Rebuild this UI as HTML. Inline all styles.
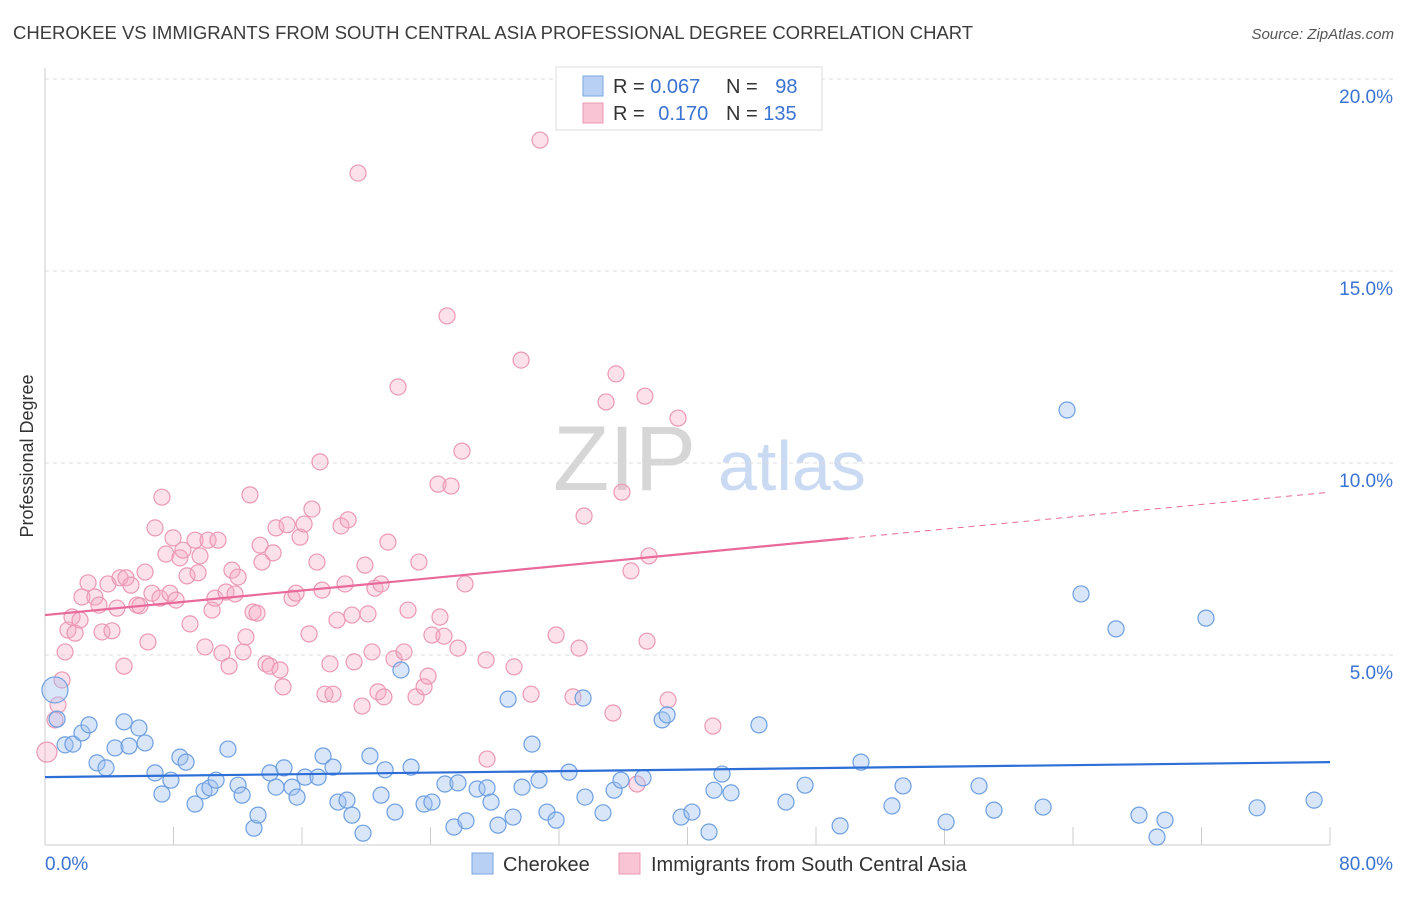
<!DOCTYPE html>
<html><head><meta charset="utf-8"><style>
body{margin:0;background:#fff;font-family:"Liberation Sans",sans-serif;}
svg text{font-family:"Liberation Sans",sans-serif;}
</style></head><body>
<svg id="chart" width="1406" height="892" viewBox="0 0 1406 892">
<text x="13" y="39" font-size="18.5" fill="#3c3c3c">CHEROKEE VS IMMIGRANTS FROM SOUTH CENTRAL ASIA PROFESSIONAL DEGREE CORRELATION CHART</text>
<text x="1394" y="39" font-size="15" fill="#555" text-anchor="end" font-style="italic">Source: ZipAtlas.com</text>
<text x="33" y="456" font-size="18" fill="#333" text-anchor="middle" transform="rotate(-90 33 456)">Professional Degree</text>
<g>
<text x="553" y="490" font-size="92" fill="#d6d6d6" font-family="Liberation Serif">ZIP</text>
<text x="718" y="490" font-size="70" fill="#c9daf2">atlas</text>
</g>
<g id="grid"></g>
<g id="marks"></g>
<g>
<rect x="556" y="67" width="266" height="63" fill="#fff" stroke="#ddd"/>
<rect x="583" y="76" width="20" height="20" fill="#b8d0f3" stroke="#7aa7e2"/>
<rect x="583" y="103" width="20" height="20" fill="#f9c4d4" stroke="#ea9ab5"/>
<text x="613" y="93" font-size="20" fill="#333">R = <tspan fill="#3b73d1">0.067</tspan></text>
<text x="726" y="93" font-size="20" fill="#333">N = <tspan fill="#3b73d1" dx="12">98</tspan></text>
<text x="613" y="120" font-size="20" fill="#333">R = <tspan fill="#3b73d1" dx="8">0.170</tspan></text>
<text x="726" y="120" font-size="20" fill="#333">N = <tspan fill="#3b73d1">135</tspan></text>
</g>
<g>
<rect x="472" y="853" width="21" height="21" fill="#b8d0f3" stroke="#7aa7e2"/>
<text x="503" y="871" font-size="20" fill="#333">Cherokee</text>
<rect x="619" y="853" width="21" height="21" fill="#f9c4d4" stroke="#ea9ab5"/>
<text x="651" y="871" font-size="20" fill="#333">Immigrants from South Central Asia</text>
</g>
</svg>
<script>
const yTicks=[5,10,15,20];
const yTickLabels=["5.0%","10.0%","15.0%","20.0%"];
const xTicks=[0,8,16,24,32,40,48,56,64,72,80];
const blueX=[0.62,0.75,1.25,1.74,2.30,2.74,3.24,3.80,4.36,4.92,5.23,5.85,6.23,6.85,7.28,7.84,8.40,8.78,9.34,9.90,10.27,10.65,11.39,12.02,12.27,13.01,13.26,14.01,14.38,14.88,15.38,15.69,16.19,17.00,17.31,17.93,18.24,18.80,19.11,19.80,20.23,20.92,21.17,21.79,22.16,22.79,23.60,24.09,24.90,25.46,25.71,26.21,26.90,27.52,27.77,28.20,28.83,29.14,29.70,30.32,30.76,31.25,31.82,32.62,33.50,33.62,34.74,35.43,35.86,37.23,38.42,38.73,39.60,40.28,41.34,41.65,42.15,42.71,44.45,46.13,47.32,49.50,50.80,52.73,53.42,56.10,58.15,59.08,62.14,63.63,64.50,66.68,68.11,69.23,69.73,72.28,75.46,79.01];
const blueY=[4.09,3.33,2.66,2.68,2.97,3.18,2.19,2.06,2.58,3.26,2.63,3.10,2.71,1.93,1.38,1.74,2.34,2.21,1.12,1.46,1.54,1.74,2.55,1.61,1.35,0.49,0.83,1.93,1.56,2.06,1.56,1.30,1.82,1.82,2.37,2.08,1.17,1.22,0.83,0.36,2.37,1.35,2.01,0.91,4.61,2.08,1.12,1.17,1.64,0.52,1.67,0.68,1.51,1.54,1.17,0.57,3.85,0.78,1.56,2.68,1.74,0.91,0.70,1.95,3.88,1.30,0.89,1.48,1.74,1.80,3.31,3.44,0.78,0.91,0.39,1.48,1.90,1.41,3.18,1.17,1.61,0.55,2.21,1.07,1.59,0.65,1.59,0.96,1.04,11.38,6.59,5.68,0.83,0.26,0.70,5.96,1.02,1.22];
const pinkX=[0.12,0.62,0.81,1.06,1.25,1.43,1.68,1.87,2.18,2.30,2.68,3.11,3.36,3.55,3.92,4.17,4.48,4.67,4.92,5.04,5.35,5.73,5.91,6.23,6.41,6.66,6.85,7.16,7.28,7.53,7.78,7.97,8.16,8.40,8.59,8.84,9.03,9.34,9.53,9.65,9.96,10.15,10.40,10.58,10.77,11.02,11.27,11.46,11.64,11.83,12.02,12.33,12.51,12.76,12.95,13.20,13.39,13.51,13.76,14.01,14.20,14.38,14.63,14.82,15.07,15.38,15.63,15.88,16.13,16.44,16.62,16.93,17.12,17.25,17.43,17.74,17.93,18.18,18.43,18.68,18.87,19.11,19.24,19.49,19.74,19.92,20.11,20.36,20.54,20.73,20.92,21.10,21.35,21.73,21.98,22.35,22.60,23.10,23.28,23.60,23.85,24.09,24.47,24.59,24.84,25.03,25.28,25.71,25.96,26.15,27.46,27.52,29.20,29.64,30.26,30.82,31.82,32.87,33.25,33.56,34.93,35.36,35.55,35.92,36.48,36.86,37.35,37.48,37.60,38.79,39.41,41.58];
const pinkY=[2.47,3.31,3.70,4.35,5.08,5.65,5.99,5.57,5.91,6.51,6.88,6.51,6.30,5.60,6.85,5.63,6.22,7.01,4.71,7.01,6.82,6.30,6.28,7.16,5.34,6.61,8.31,6.48,9.11,7.63,6.61,8.05,6.43,7.53,7.73,7.06,5.81,7.99,7.14,7.58,5.21,7.99,6.17,6.48,7.99,5.05,6.64,4.71,7.21,6.59,7.03,5.08,5.47,9.17,6.12,6.09,7.86,7.42,4.77,4.71,7.66,8.31,4.61,4.17,8.39,6.48,6.61,8.07,8.41,5.55,8.80,7.42,10.03,6.69,3.98,4.77,3.98,5.91,8.36,6.85,8.52,6.04,4.82,17.55,3.67,7.34,6.07,5.08,6.74,4.04,6.85,3.91,7.94,4.90,11.98,5.08,6.17,3.91,7.42,4.17,4.45,5.52,9.45,5.99,5.49,13.83,9.40,5.18,10.31,6.85,4.87,2.29,4.69,12.68,3.98,18.41,5.52,3.91,5.18,8.62,11.59,3.49,12.32,9.24,7.19,1.64,11.74,5.36,7.58,3.83,11.17,3.15];
const blueTrend=[1.82,2.21];
const pinkTrend=[6.04,9.24];
const pinkSolidEnd=50;
const NS="http://www.w3.org/2000/svg";
const X0=45,X1=1330,Y0=847,PXPER=38.4;
function sx(v){return X0+(v/80)*(X1-X0);}
function sy(v){return Y0-v*PXPER;}
function mk(tag,attrs,parent){const e=document.createElementNS(NS,tag);for(const k in attrs)e.setAttribute(k,attrs[k]);parent.appendChild(e);return e;}
const grid=document.getElementById('grid'),marks=document.getElementById('marks');
yTicks.forEach((t,i)=>{
 const l=mk('line',{x1:X0,x2:1393,y1:sy(t),y2:sy(t),stroke:'#dcdcdc','stroke-dasharray':'4,4'},grid);
 
 
 const tx=mk('text',{x:1393,y:sy(t)+24,'font-size':19,fill:'#3b73d1','text-anchor':'end'},grid);
 tx.textContent=yTickLabels[i];
 
 
});
const ya=mk('line',{x1:X0,x2:X0,y1:68,y2:845,stroke:'#ccc'},grid);


const xa=mk('line',{x1:X0,x2:X1,y1:845,y2:845,stroke:'#ccc'},grid);


xTicks.forEach(t=>{
 const l=mk('line',{x1:sx(t),x2:sx(t),y1:827,y2:845,stroke:'#ccc'},grid);
 
 
});
const xl0=mk('text',{x:45,y:870,'font-size':19,fill:'#3b73d1'},grid);xl0.textContent='0.0%';


const xl1=mk('text',{x:1393,y:870,'font-size':19,fill:'#3b73d1','text-anchor':'end'},grid);xl1.textContent='80.0%';


pinkX.forEach((v,i)=>{
 const c=mk('circle',{cx:sx(v),cy:sy(pinkY[i]),r:i===0?10:8,fill:'rgba(245,170,196,0.35)',stroke:'#eb98b5','stroke-width':1.2},marks);
 
 
});
blueX.forEach((v,i)=>{
 const c=mk('circle',{cx:sx(v),cy:sy(blueY[i]),r:i===0?13:8,fill:'rgba(160,192,240,0.4)',stroke:'#6d9fe0','stroke-width':1.2},marks);
 
 
});
const bt=mk('line',{x1:sx(0),y1:sy(blueTrend[0]),x2:sx(80),y2:sy(blueTrend[1]),stroke:'#2d6fd6','stroke-width':2.2},marks);


const pm=pinkTrend[0]+(pinkTrend[1]-pinkTrend[0])*pinkSolidEnd/80;
const pt=mk('line',{x1:sx(0),y1:sy(pinkTrend[0]),x2:sx(pinkSolidEnd),y2:sy(pm),stroke:'#e8699a','stroke-width':2.2},marks);


const pd=mk('line',{x1:sx(pinkSolidEnd),y1:sy(pm),x2:sx(80),y2:sy(pinkTrend[1]),stroke:'#e8699a','stroke-width':1,'stroke-dasharray':'6,5'},marks);


</script>
</body></html>
